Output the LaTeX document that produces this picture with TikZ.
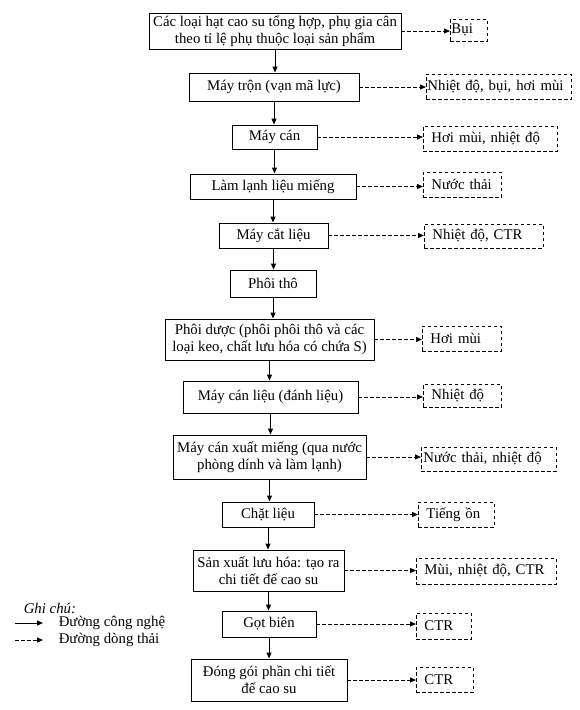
\documentclass[tikz,border=0pt]{standalone}
\usepackage{fontspec}
\setmainfont{Liberation Serif}
\usetikzlibrary{arrows.meta}

\begin{document}
\begin{tikzpicture}[x=1pt, y=-1pt, >={Triangle[length=6pt,width=5pt]}, line width=0.95pt,
    font=\fontsize{14.8pt}{17pt}\selectfont,
    proc/.style={draw, align=center, inner sep=1pt},
    waste/.style={draw, dash pattern=on 3.5pt off 2.5pt, anchor=west, align=left, inner xsep=8pt, inner ysep=1pt},
    flow/.style={->},
    emis/.style={->, dash pattern=on 3.5pt off 2.5pt}]
    \useasboundingbox (0,0) rectangle (580,710);
    \node[proc, minimum width=252pt, minimum height=36pt] (p1) at (275,31) {Các loại hạt cao su tổng hợp, phụ gia cân\\theo tỉ lệ phụ thuộc loại sản phẩm};
    \node[proc, minimum width=170pt, minimum height=28pt] (p2) at (274,87) {Máy trộn (vạn mã lực)};
    \node[proc, minimum width=85pt, minimum height=24pt] (p3) at (274.5,137) {Máy cán};
    \node[proc, minimum width=166pt, minimum height=25pt] (p4) at (273,186.5) {Làm lạnh liệu miếng};
    \node[proc, minimum width=109pt, minimum height=25pt] (p5) at (273.5,235.5) {Máy cắt liệu};
    \node[proc, minimum width=86pt, minimum height=27pt] (p6) at (273,283.5) {Phôi thô};
    \node[proc, minimum width=209pt, minimum height=41pt] (p7) at (269.5,339.5) {Phôi dược (phôi phôi thô và các\\loại keo, chất lưu hóa có chứa S)};
    \node[proc, minimum width=175pt, minimum height=32pt] (p8) at (270.5,397) {Máy cán liệu (đánh liệu)};
    \node[proc, minimum width=193pt, minimum height=44pt] (p9) at (269.5,457) {Máy cán xuất miếng (qua nước\\phòng dính và làm lạnh)};
    \node[proc, minimum width=92pt, minimum height=25pt] (p10) at (268,514.5) {Chặt liệu};
    \node[proc, minimum width=151pt, minimum height=41pt] (p11) at (268.5,570.5) {Sản xuất lưu hóa: tạo ra\\chi tiết đế cao su};
    \node[proc, minimum width=94pt, minimum height=26pt] (p12) at (269,624) {Gọt biên};
    \node[proc, minimum width=156pt, minimum height=42pt] (p13) at (269,680) {Đóng gói phần chi tiết\\đế cao su};

    \node[waste, inner xsep=1pt, text width=35pt, minimum height=22pt] (w1) at (450,30) {Bụi};
    \node[waste, inner xsep=1pt, text width=143pt, minimum height=25pt] (w2) at (426,86.5) {Nhiệt độ, bụi, hơi mùi};
    \node[waste, text width=118pt, minimum height=25pt] (w3) at (423,138.5) {Hơi mùi, nhiệt độ};
    \node[waste, text width=62pt, minimum height=25pt] (w4) at (423,184.5) {Nước thải};
    \node[waste, text width=103pt, minimum height=24pt] (w5) at (424,236) {Nhiệt độ, CTR};
    \node[waste, text width=63pt, minimum height=25pt] (w7) at (422,338.5) {Hơi mùi};
    \node[waste, text width=62pt, minimum height=23pt] (w8) at (423,395.5) {Nhiệt độ};
    \node[waste, inner xsep=2pt, text width=131pt, minimum height=24pt] (w9) at (421,459) {Nước thải, nhiệt độ};
    \node[waste, text width=60pt, minimum height=25pt] (w10) at (418,514.5) {Tiếng ồn};
    \node[waste, text width=124pt, minimum height=26pt] (w11) at (416,571) {Mùi, nhiệt độ, CTR};
    \node[waste, text width=39pt, minimum height=26pt] (w12) at (416,626) {CTR};
    \node[waste, text width=41pt, minimum height=25pt] (w13) at (416,679.5) {CTR};

    \draw[flow] (p1.south) -- (p1.south |- p2.north); \draw[flow] (p2.south) -- (p2.south |- p3.north);
    \draw[flow] (p3.south) -- (p3.south |- p4.north); \draw[flow] (p4.south) -- (p4.south |- p5.north);
    \draw[flow] (p5.south) -- (p5.south |- p6.north); \draw[flow] (p6.south) -- (p6.south |- p7.north);
    \draw[flow] (p7.south) -- (p7.south |- p8.north); \draw[flow] (p8.south) -- (p8.south |- p9.north);
    \draw[flow] (p9.south) -- (p9.south |- p10.north); \draw[flow] (p10.south) -- (p10.south |- p11.north);
    \draw[flow] (p11.south) -- (p11.south |- p12.north); \draw[flow] (p12.south) -- (p12.south |- p13.north);

    \draw[emis] (p1.east) -- (p1.east -| w1.west); \draw[emis] (p2.east) -- (p2.east -| w2.west);
    \draw[emis] (p3.east) -- (p3.east -| w3.west); \draw[emis] (p4.east) -- (p4.east -| w4.west);
    \draw[emis] (p5.east) -- (p5.east -| w5.west); \draw[emis] (p7.east) -- (p7.east -| w7.west);
    \draw[emis] (p8.east) -- (p8.east -| w8.west); \draw[emis] (p9.east) -- (p9.east -| w9.west);
    \draw[emis] (p10.east) -- (p10.east -| w10.west); \draw[emis] (p11.east) -- (p11.east -| w11.west);
    \draw[emis] (p12.east) -- (p12.east -| w12.west); \draw[emis] (p13.east) -- (p13.east -| w13.west);

    \node[anchor=west, font=\fontsize{14.8pt}{17pt}\selectfont\itshape] (note) at (20,608) {Ghi chú:};
    \coordinate (l1a) at (15,623); \coordinate (l1b) at (43,623);
    \coordinate (l2a) at (15,640); \coordinate (l2b) at (43,640);
    \draw[flow] (l1a) -- (l1b); \draw[emis] (l2a) -- (l2b);
    \node[anchor=west] (l1) at (55,623) {Đường công nghệ};
    \node[anchor=west] (l2) at (55,640) {Đường dòng thải};
\end{tikzpicture}
\end{document}
